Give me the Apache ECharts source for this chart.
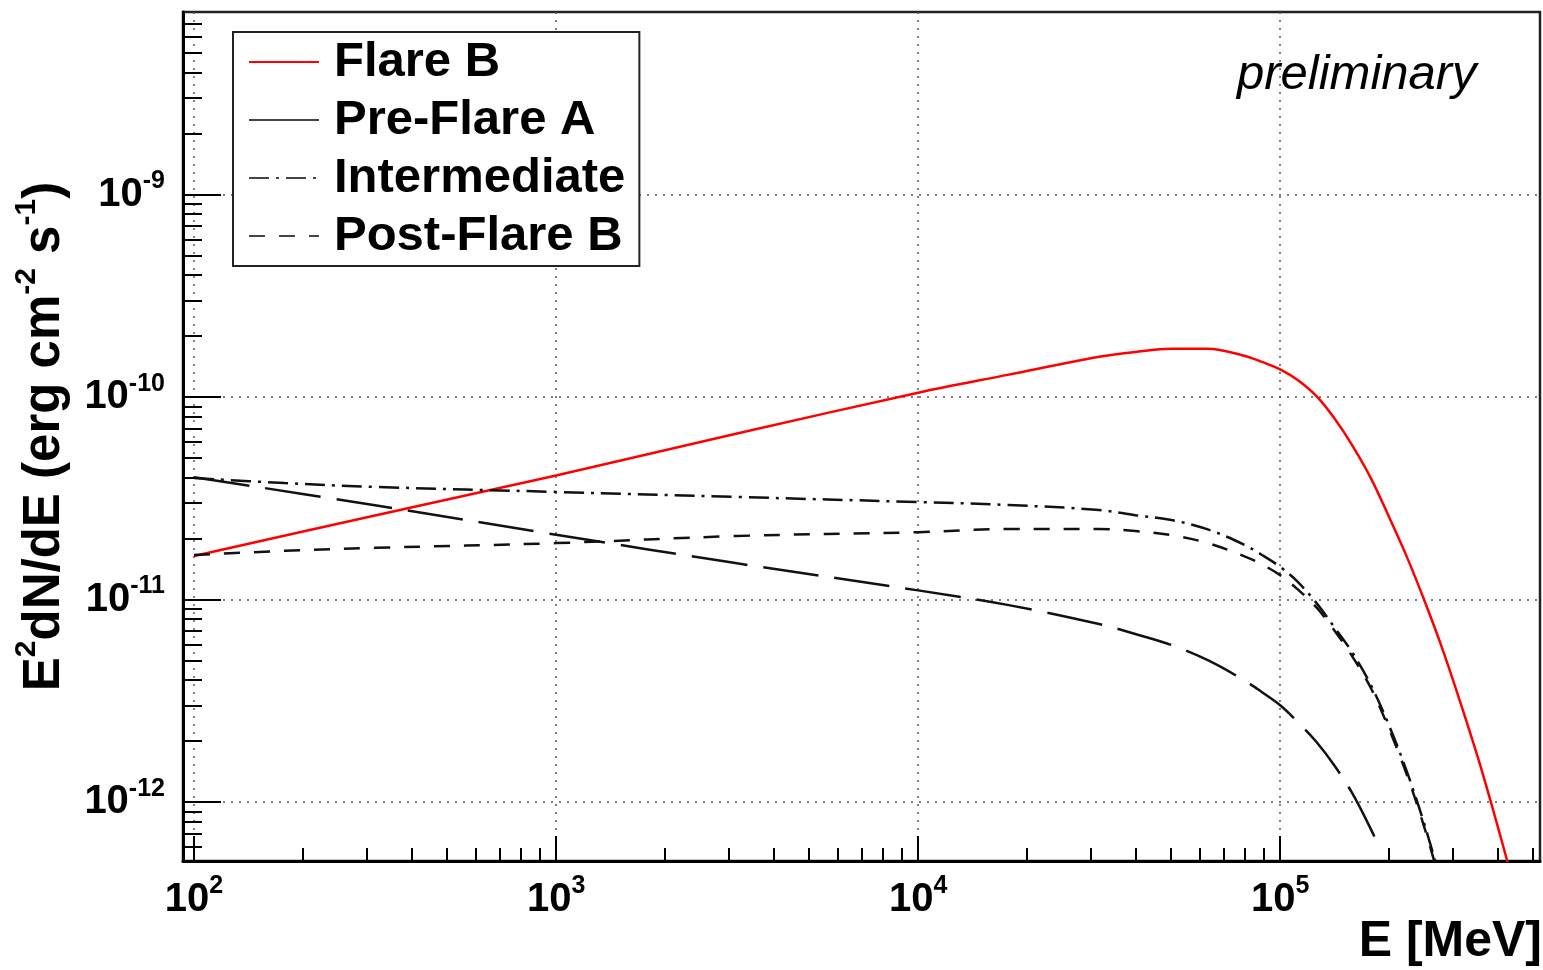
<!DOCTYPE html>
<html>
<head>
<meta charset="utf-8">
<title>E2dN/dE spectra</title>
<script src="https://cdn.jsdelivr.net/npm/echarts@6/dist/echarts.min.js"></script>
<style>
  html, body { margin: 0; padding: 0; background: #fff; }
  #chart { width: 1543px; height: 970px; }
</style>
</head>
<body>
<div id="chart"></div>
<script>
// energies in MeV, fluxes in erg cm^-2 s^-1
const energyFlareB = [100, 316, 1000, 3160, 10000, 17800, 31600, 39800, 50100, 63100, 79400, 89100, 100000,
  112000, 126000, 141000, 158000, 178000, 200000, 224000, 251000, 282000, 316000, 355000, 398000, 433000];
const fluxFlareB = [1.64e-11, 2.6e-11, 4.1e-11, 6.6e-11, 1.05e-10, 1.29e-10, 1.58e-10, 1.67e-10, 1.73e-10, 1.73e-10, 1.6e-10, 1.49e-10, 1.37e-10,
  1.21e-10, 1.01e-10, 7.87e-11, 5.79e-11, 3.98e-11, 2.55e-11, 1.62e-11, 9.75e-12, 5.57e-12, 3.03e-12, 1.57e-12, 7.7e-13, 4.45e-13];

const energyPreFlareA = [100, 316, 1000, 3160, 10000, 17800, 31600, 39800, 50100, 63100, 79400, 89100, 100000,
  112000, 126000, 141000, 158000, 178000, 187000];
const fluxPreFlareA = [4.02e-11, 2.92e-11, 2.09e-11, 1.51e-11, 1.11e-11, 9.39e-12, 7.57e-12, 6.76e-12, 5.96e-12, 5.02e-12, 4.0e-12, 3.49e-12, 3.01e-12,
  2.48e-12, 1.98e-12, 1.52e-12, 1.11e-12, 7.36e-13, 6.07e-13];

const energyIntermediate = [100, 178, 316, 1000, 3160, 10000, 17800, 31600, 39800, 50100, 63100, 79400, 89100, 100000,
  112000, 126000, 141000, 158000, 178000, 200000, 224000, 251000, 282000];
const fluxIntermediate = [3.98e-11, 3.76e-11, 3.6e-11, 3.4e-11, 3.21e-11, 3.03e-11, 2.93e-11, 2.77e-11, 2.61e-11, 2.47e-11, 2.22e-11, 1.87e-11, 1.66e-11, 1.45e-11,
  1.22e-11, 9.6e-12, 7.32e-12, 5.5e-12, 3.79e-12, 2.38e-12, 1.41e-12, 7.64e-13, 3.7e-13];

const energyPostFlareB = [100, 178, 316, 1000, 3160, 10000, 17800, 31600, 39800, 50100, 63100, 79400, 89100, 100000,
  112000, 126000, 141000, 158000, 178000, 200000, 224000, 251000, 282000];
const fluxPostFlareB = [1.66e-11, 1.74e-11, 1.8e-11, 1.9e-11, 2.06e-11, 2.15e-11, 2.23e-11, 2.23e-11, 2.18e-11, 2.08e-11, 1.9e-11, 1.64e-11, 1.49e-11, 1.32e-11,
  1.12e-11, 9.14e-12, 7.06e-12, 5.26e-12, 3.66e-12, 2.29e-12, 1.36e-12, 7.36e-13, 3.56e-13];

// axis ranges and tick values
const xMin = 93.2, xMax = 5.22e5;
const yMin = 5.12e-13, yMax = 7.96e-9;
const xMajorTicks = [1e2, 1e3, 1e4, 1e5];
const yMajorTicks = [1e-12, 1e-11, 1e-10, 1e-9];
const xMinorTicks = [];
for (let n = 2; n <= 5; n++) for (let k = 2; k <= 9; k++) xMinorTicks.push(Number((k * Math.pow(10, n)).toPrecision(3)));
const yMinorTicks = [];
for (let n = -13; n <= -9; n++) for (let k = 2; k <= 9; k++) yMinorTicks.push(Number((k * Math.pow(10, n)).toPrecision(3)));

const FONT = '"Liberation Sans", Arial, Helvetica, sans-serif';

function pairs(xs, ys) {
  return xs.map((x, i) => [x, ys[i]]);
}

function powLabel(value) {
  const e = Math.round(Math.log10(value));
  return '{b|10}{s|' + e + '}';
}

const labelRich = {
  b: { fontSize: 40, fontWeight: 'bold', fontFamily: FONT, color: '#000', lineHeight: 44 },
  s: { fontSize: 25, fontWeight: 'bold', fontFamily: FONT, color: '#000', padding: [0, 0, 26, 0] }
};

const gridLine = { show: true, lineStyle: { color: '#555', width: 1.5, type: [2, 6] } };

const chart = echarts.init(document.getElementById('chart'), null, { renderer: 'canvas' });

const option = {
  animation: false,
  backgroundColor: '#fff',
  grid: {
    left: 183, right: 3, top: 12, bottom: 109,
    show: true, borderColor: '#222', borderWidth: 2.5,
    containLabel: false, outerBoundsMode: 'none'
  },
  legend: {
    orient: 'vertical',
    left: 233, top: 32,
    padding: [1, 14, 1, 15],
    itemGap: 0,
    itemWidth: 70, itemHeight: 20,
    borderColor: '#222', borderWidth: 2,
    backgroundColor: '#fff',
    selectedMode: false,
    itemStyle: { opacity: 0, borderWidth: 0 },
    lineStyle: { width: 2 },
    textStyle: { fontSize: 49, fontWeight: 'bold', fontFamily: FONT, color: '#000', lineHeight: 58, padding: [0, 0, 0, 10] },
    data: [
      { name: 'Flare B' },
      { name: 'Pre-Flare A', lineStyle: { type: 'solid', color: '#444' } },
      { name: 'Intermediate', lineStyle: { color: '#444' } },
      { name: 'Post-Flare B', lineStyle: { color: '#444' } }
    ]
  },
  xAxis: [
    {
      type: 'log', logBase: 10, min: xMin, max: xMax, position: 'bottom',
      axisLine: { show: true, onZero: false, lineStyle: { color: '#000', width: 3 } },
      axisTick: { show: true, inside: true, length: 25, customValues: xMajorTicks, lineStyle: { color: '#000', width: 2 } },
      axisLabel: { show: true, customValues: xMajorTicks, margin: 13, formatter: powLabel, rich: labelRich },
      splitLine: gridLine,
      minorTick: { show: false }
    },
    {
      type: 'log', logBase: 10, min: xMin, max: xMax, position: 'bottom',
      axisLine: { show: false },
      axisTick: { show: true, inside: true, length: 13, customValues: xMinorTicks, lineStyle: { color: '#000', width: 2 } },
      axisLabel: { show: false },
      splitLine: { show: false }
    }
  ],
  yAxis: [
    {
      type: 'log', logBase: 10, min: yMin, max: yMax, position: 'left',
      axisLine: { show: true, onZero: false, lineStyle: { color: '#000', width: 3 } },
      axisTick: { show: true, inside: true, length: 38, customValues: yMajorTicks, lineStyle: { color: '#000', width: 2 } },
      axisLabel: { show: true, customValues: yMajorTicks, margin: 18, formatter: powLabel, rich: labelRich },
      splitLine: gridLine,
      name: 'E{s|2}dN/dE (erg cm{s|-2} s{s|-1})',
      nameLocation: 'middle',
      nameRotate: 90,
      nameGap: 105,
      nameMoveOverlap: false,
      nameTextStyle: {
        fontSize: 51, fontWeight: 'bold', fontFamily: FONT, color: '#000',
        rich: { s: { fontSize: 30, fontWeight: 'bold', fontFamily: FONT, color: '#000', padding: [0, 0, 36, 0] } }
      }
    },
    {
      type: 'log', logBase: 10, min: yMin, max: yMax, position: 'left',
      axisLine: { show: false },
      axisTick: { show: true, inside: true, length: 19, customValues: yMinorTicks, lineStyle: { color: '#000', width: 2 } },
      axisLabel: { show: false },
      splitLine: { show: false }
    }
  ],
  graphic: [
    {
      type: 'text', left: 1237, top: 51, silent: true,
      style: { text: 'preliminary', font: 'italic 49px ' + FONT, fill: '#000' }
    },
    {
      type: 'text', right: 1, top: 917, silent: true,
      style: { text: 'E [MeV]', font: 'bold 50px ' + FONT, fill: '#000' }
    }
  ],
  series: [
    {
      name: 'Flare B', type: 'line', xAxisIndex: 0, yAxisIndex: 0,
      data: pairs(energyFlareB, fluxFlareB),
      smooth: 0.35, symbol: 'none', clip: true, silent: true,
      itemStyle: { color: '#ff0000' },
      lineStyle: { color: '#ff0000', width: 2.5 }
    },
    {
      name: 'Pre-Flare A', type: 'line', xAxisIndex: 0, yAxisIndex: 0,
      data: pairs(energyPreFlareA, fluxPreFlareA),
      smooth: 0.35, symbol: 'none', clip: true, silent: true,
      itemStyle: { color: '#111' },
      lineStyle: { color: '#111', width: 2.5, type: [56, 16] }
    },
    {
      name: 'Intermediate', type: 'line', xAxisIndex: 0, yAxisIndex: 0,
      data: pairs(energyIntermediate, fluxIntermediate),
      smooth: 0.35, symbol: 'none', clip: true, silent: true,
      itemStyle: { color: '#111' },
      lineStyle: { color: '#111', width: 2.5, type: [20, 7, 3, 7] }
    },
    {
      name: 'Post-Flare B', type: 'line', xAxisIndex: 0, yAxisIndex: 0,
      data: pairs(energyPostFlareB, fluxPostFlareB),
      smooth: 0.35, symbol: 'none', clip: true, silent: true,
      itemStyle: { color: '#111' },
      lineStyle: { color: '#111', width: 2.5, type: [16, 14] }
    }
  ]
};

chart.setOption(option);
</script>
</body>
</html>
